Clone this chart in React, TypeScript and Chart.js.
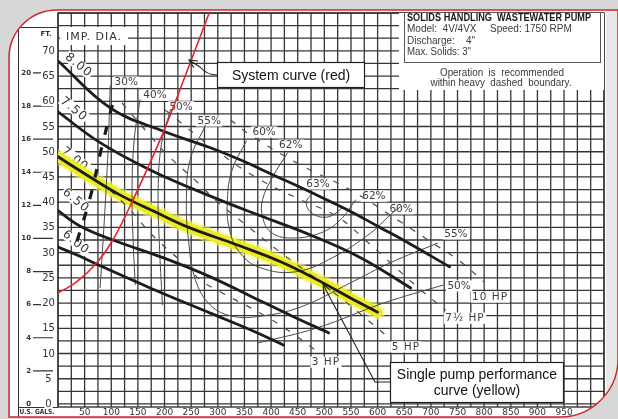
import React, { useEffect, useRef } from 'react';
import { Chart, registerables } from 'chart.js';

Chart.register(...registerables);

// ---------- axes ----------
const X_MIN = 0;
const X_MAX = 1025;
const Y_MIN = -0.6;
const Y_MAX = 77.5;
const X_GRID_STEP = 25;
const Y_GRID_STEP = 2.5;
const FT_PER_M = 3.2808;
const xTickLabels = [50, 100, 150, 200, 250, 300, 350, 400, 450, 500, 550, 600, 650, 700, 750, 800, 850, 900, 950];
const ftTickLabels = [0, 5, 10, 15, 20, 25, 30, 35, 40, 45, 50, 55, 60, 65, 70];
const meterTickLabels = [0, 2, 4, 6, 8, 10, 12, 14, 16, 18, 20];

// ---------- impeller head curves [gpm, ft] ----------
const imp800: number[][] = [[0, 68.0], [98, 58.7], [197, 54.1], [286, 50.8], [342, 48.4], [404, 45.4], [474, 42.0], [543, 38.5], [606, 34.9], [648, 32.5], [735, 27.2]];
const imp750: number[][] = [[0, 57.9], [79, 51.8], [173, 46.4], [286, 41.2], [380, 37.3], [474, 33.5], [568, 29.0], [662, 23.0]];
const imp700: number[][] = [[0, 49.0], [60, 45.0], [117, 41.4], [182, 38.1], [243, 35.1], [337, 31.5], [418, 28.2], [487, 24.6], [549, 21.0], [600, 18.2]];
const imp650: number[][] = [[0, 38.3], [41, 35.3], [103, 32.5], [197, 29.0], [286, 25.2], [361, 21.4], [436, 17.6], [508, 14.1]];
const imp600: number[][] = [[0, 31.1], [41, 29.3], [79, 27.4], [173, 23.0], [286, 18.0], [361, 14.7], [423, 11.7]];

// ---------- system curve ----------
const systemCurve: number[][] = [[0, 22.0], [35, 24.2], [73, 28.0], [103, 32.5], [141, 40.5], [197, 53.7], [243, 66.2], [286, 78.1]];

// ---------- efficiency contours ----------
const eff30: number[][] = [[98, 63.1], [94, 50.4], [87, 36.5], [79, 23.0]];
const eff40: number[][] = [[154, 60.3], [143, 52.3], [139, 42.4], [141, 32.5], [145, 23.6]];
const eff50L: number[][] = [[211, 58.3], [194, 51.4], [188, 42.4], [190, 32.5], [196, 19.6]];
const eff50R: number[][] = [[376, 12.1], [487, 15.1], [611, 20.0], [724, 23.6]];
const eff55: number[][] = [[277, 55.3], [248, 48.4], [241, 40.5], [245, 32.5], [258, 24.6], [286, 19.6], [327, 17.4], [380, 17.4], [455, 19.2], [549, 24.0], [624, 28.0], [713, 31.9]];
const eff60: number[][] = [[354, 52.2], [327, 46.4], [318, 40.5], [322, 34.5], [342, 29.9], [380, 27.0], [446, 26.2], [517, 29.1], [587, 33.9], [624, 37.5], [643, 39.1]];
const eff62: number[][] = [[431, 49.8], [403, 45.0], [384, 40.5], [384, 37.1], [399, 34.1], [436, 32.9], [493, 33.9], [530, 36.5], [559, 40.5]];
const eff63: number[][] = [[478, 41.8], [466, 39.9], [478, 37.7], [508, 37.1], [534, 38.9]];

// ---------- horsepower lines ----------
const hp10: number[][] = [[324, 56.3], [361, 53.3], [455, 47.4], [549, 42.4], [643, 36.1], [709, 31.5], [756, 28.2], [799, 24.2]];
const hp75: number[][] = [[201, 58.3], [295, 50.4], [380, 44.4], [455, 40.5], [525, 37.1], [581, 32.1], [628, 27.6], [681, 22.6], [728, 18.6]];
const hp5: number[][] = [[120, 59.7], [167, 53.9], [205, 49.4], [261, 44.0], [299, 40.1], [348, 35.9], [412, 30.5], [487, 24.6], [559, 18.6], [619, 13.3]];
const hp3: number[][] = [[98, 42.4], [135, 38.5], [173, 33.9], [207, 30.5], [239, 27.6], [267, 24.6], [305, 22.2], [380, 18.0], [436, 14.3], [483, 10.7]];

// ---------- heavy dashed operating boundary ----------
const heavyBoundary: number[][] = [[102, 59.3], [81, 50.4], [60, 40.8], [28, 29.7]];

// ---------- labels [text, gpm, ft] ----------
const effLabels: [string, number, number][] = [
  ['30%', 128, 63.8], ['40%', 182, 61.2], ['50%', 231, 58.9], ['55%', 284, 56.1],
  ['60%', 387, 53.9], ['62%', 437, 51.3], ['63%', 488, 43.6], ['62%', 593, 41.2],
  ['60%', 644, 38.7], ['55%', 747, 33.7], ['50%', 753, 23.4],
];
const hpLabels: [string, number, number][] = [
  ['10 HP', 811, 21.2], ['7½ HP', 764, 17.0], ['5 HP', 653, 11.3], ['3 HP', 503, 8.3],
];
const impLabels: [string, number, number][] = [
  ['8.00', 39, 67.2], ['7.50', 30, 58.5], ['7.00', 32, 48.6], ['6.50', 34, 40.4], ['6.00', 34, 32.1],
];
const systemArrowTip = [246, 68.2];
const pumpArrowTip = [498, 23.6];

const infoLines = {
  title: 'SOLIDS HANDLING  WASTEWATER PUMP',
  model: 'Model:  4V/4VX',
  speed: 'Speed: 1750 RPM',
  discharge: 'Discharge:    4"',
  solids: 'Max. Solids: 3"',
  note1: 'Operation  is  recommended',
  note2: 'within heavy  dashed  boundary.',
};

const pts = (arr: number[][]) => arr.map(([x, y]) => ({ x, y }));

function curve(data: number[][], color: string, width: number, order: number, extra: any = {}) {
  return {
    data: pts(data),
    showLine: true,
    borderColor: color,
    backgroundColor: color,
    borderWidth: width,
    pointRadius: 0,
    pointHoverRadius: 0,
    tension: 0.4,
    fill: false,
    order,
    borderJoinStyle: 'round',
    ...extra,
  };
}

const THIN = '#4a4a4a';
const datasets: any[] = [
  curve(systemCurve, '#e2262b', 1.6, 1),
  curve(imp800, '#1c1c1c', 2.8, 3, { borderCapStyle: 'round' }),
  curve(imp750, '#1c1c1c', 2.8, 3, { borderCapStyle: 'round' }),
  curve(imp700, '#1c1c1c', 2.8, 3, { borderCapStyle: 'round' }),
  curve(imp650, '#1c1c1c', 2.8, 3, { borderCapStyle: 'round' }),
  curve(imp600, '#1c1c1c', 2.8, 3, { borderCapStyle: 'round' }),
  curve(heavyBoundary, '#1a1a1a', 3.2, 6, { borderDash: [9, 13] }),
  curve(hp10, THIN, 1.2, 8, { borderDash: [6, 9] }),
  curve(hp75, THIN, 1.2, 8, { borderDash: [6, 9] }),
  curve(hp5, THIN, 1.2, 8, { borderDash: [6, 9] }),
  curve(hp3, THIN, 1.2, 8, { borderDash: [6, 9] }),
  curve(eff30, THIN, 1, 9),
  curve(eff40, THIN, 1, 9),
  curve(eff50L, THIN, 1, 9),
  curve(eff50R, THIN, 1, 9),
  curve(eff55, THIN, 1, 9),
  curve(eff60, THIN, 1, 9),
  curve(eff62, THIN, 1, 9),
  curve(eff63, THIN, 1, 9),
  curve(imp700, 'rgb(236,236,36)', 10, 19, { borderCapStyle: 'round' }),
  curve(imp700, 'rgba(244,244,120,0.55)', 15, 20, { borderCapStyle: 'round' }),
];

function textBg(ctx: CanvasRenderingContext2D, text: string, x: number, y: number, size: number, color: string, angle = 0, pad = 1.5, spacing = '0px') {
  ctx.save();
  ctx.translate(x, y);
  if (angle) ctx.rotate(angle);
  ctx.font = `${size}px "DejaVu Sans"`;
  (ctx as any).letterSpacing = spacing;
  const w = ctx.measureText(text).width;
  const h = size * 0.78;
  ctx.fillStyle = '#ffffff';
  ctx.fillRect(-w / 2 - pad, -h / 2 - pad, w + pad * 2, h + pad * 2);
  ctx.fillStyle = color;
  ctx.textAlign = 'center';
  ctx.textBaseline = 'middle';
  ctx.fillText(text, 0, 0.5);
  ctx.restore();
}

function arrowHead(ctx: CanvasRenderingContext2D, fx: number, fy: number, tx: number, ty: number, len = 9, spread = 0.45) {
  const a = Math.atan2(ty - fy, tx - fx);
  ctx.beginPath();
  ctx.moveTo(tx - len * Math.cos(a - spread), ty - len * Math.sin(a - spread));
  ctx.lineTo(tx, ty);
  ctx.lineTo(tx - len * Math.cos(a + spread), ty - len * Math.sin(a + spread));
  ctx.stroke();
}

const pumpPlugin = {
  id: 'pumpChart',
  beforeDraw(chart: any) {
    const { ctx, width, height } = chart;
    ctx.save();
    ctx.fillStyle = '#ffffff';
    ctx.fillRect(0, 0, width, height);
    ctx.restore();
  },
  beforeDatasetsDraw(chart: any) {
    const { ctx, chartArea, scales } = chart;
    const { left, right, top, bottom } = chartArea;
    const xs = scales.x;
    const ys = scales.y;
    ctx.save();
    // grid
    ctx.strokeStyle = '#363636';
    ctx.lineWidth = 1.3;
    ctx.beginPath();
    for (let v = X_MIN; v <= X_MAX + 1e-6; v += X_GRID_STEP) {
      const px = xs.getPixelForValue(v);
      ctx.moveTo(px, top);
      ctx.lineTo(px, bottom);
    }
    for (let v = 0; v <= Y_MAX + 1e-6; v += Y_GRID_STEP) {
      const py = ys.getPixelForValue(v);
      ctx.moveTo(left, py);
      ctx.lineTo(right, py);
    }
    ctx.stroke();
    ctx.lineWidth = 1.4;
    ctx.strokeRect(left, top, right - left, bottom - top);

    // white information area (top right)
    ctx.fillStyle = '#ffffff';
    ctx.fillRect(right - 205, top, 205, 77);
    // IMP. DIA. header area
    ctx.fillRect(left + 2, 27, 68, 18);
    ctx.restore();

    textBg(ctx, 'IMP. DIA.', left + 36, 37, 11, '#333', 0, 1, '1px');

    effLabels.forEach(([t, gx, gy]) => textBg(ctx, t, xs.getPixelForValue(gx), ys.getPixelForValue(gy), 10.5, '#3c3c3c'));
    hpLabels.forEach(([t, gx, gy]) => textBg(ctx, t, xs.getPixelForValue(gx), ys.getPixelForValue(gy), 10.5, '#3c3c3c', 0, 1.5, '1px'));
    impLabels.forEach(([t, gx, gy]) => textBg(ctx, t, xs.getPixelForValue(gx), ys.getPixelForValue(gy), 12, '#333', 0.68, 1, '1px'));
  },
  afterDatasetsDraw(chart: any) {
    const { ctx, chartArea, scales, width, height } = chart;
    const { left, right, top, bottom } = chartArea;
    const xs = scales.x;
    const ys = scales.y;
    ctx.save();

    // ---- info box ----
    const bx = right - 200;
    ctx.strokeStyle = '#555';
    ctx.lineWidth = 1;
    ctx.strokeRect(bx + 0.5, top - 0.5, 196, 50);
    ctx.textAlign = 'left';
    ctx.textBaseline = 'alphabetic';
    ctx.fillStyle = '#1a1a1a';
    ctx.font = 'bold 10px "Liberation Sans"';
    ctx.fillText(infoLines.title, bx + 3, top + 8, 184);
    ctx.fillStyle = '#3a3a3a';
    ctx.font = '10px "Liberation Sans"';
    ctx.fillText(infoLines.model, bx + 3, top + 19, 70);
    ctx.fillText(infoLines.speed, bx + 86, top + 19, 84);
    ctx.fillText(infoLines.discharge, bx + 3, top + 31, 72);
    ctx.fillText(infoLines.solids, bx + 3, top + 42, 64);
    ctx.textAlign = 'center';
    ctx.fillText(infoLines.note1, bx + 98, top + 63, 124);
    ctx.fillText(infoLines.note2, bx + 97, top + 73, 141);

    // ---- system curve callout ----
    ctx.fillStyle = '#ffffff';
    ctx.fillRect(217, 62, 148, 26);
    ctx.strokeStyle = '#222';
    ctx.lineWidth = 1.2;
    ctx.strokeRect(217.5, 62.5, 147, 25);
    ctx.fillStyle = '#111';
    ctx.font = '14px "Liberation Sans"';
    ctx.textBaseline = 'middle';
    ctx.fillText('System curve (red)', 291, 76);
    const st = [xs.getPixelForValue(systemArrowTip[0]), ys.getPixelForValue(systemArrowTip[1])];
    ctx.lineWidth = 1.1;
    ctx.beginPath();
    ctx.moveTo(217, 75);
    ctx.quadraticCurveTo(207, 75, 200, 67);
    ctx.lineTo(st[0], st[1]);
    ctx.stroke();
    arrowHead(ctx, 200, 67, st[0], st[1]);

    // ---- pump curve callout ----
    ctx.fillStyle = '#ffffff';
    ctx.fillRect(390, 362, 174, 41);
    ctx.strokeStyle = '#222';
    ctx.lineWidth = 1.2;
    ctx.strokeRect(390.5, 362.5, 173, 40);
    ctx.fillStyle = '#111';
    ctx.fillText('Single pump performance', 477, 375);
    ctx.fillText('curve (yellow)', 477, 391);
    const pt = [xs.getPixelForValue(pumpArrowTip[0]), ys.getPixelForValue(pumpArrowTip[1])];
    ctx.lineWidth = 1.1;
    ctx.beginPath();
    ctx.moveTo(390, 382);
    ctx.lineTo(375, 382);
    ctx.lineTo(pt[0], pt[1]);
    ctx.stroke();
    arrowHead(ctx, 375, 382, pt[0], pt[1]);

    // ---- axes / labels outside plot ----
    ctx.strokeStyle = '#333';
    ctx.lineWidth = 1;
    ctx.beginPath();
    ctx.moveTo(18.5, 27);
    ctx.lineTo(18.5, height);
    ctx.moveTo(18, 27.5);
    ctx.lineTo(left, 27.5);
    ctx.moveTo(18, bottom + 0.5);
    ctx.lineTo(left, bottom + 0.5);
    ctx.stroke();

    // meter ticks
    ctx.lineWidth = 1.2;
    ctx.beginPath();
    meterTickLabels.forEach((m) => {
      if (m === 0) return;
      const py = ys.getPixelForValue(m * FT_PER_M);
      ctx.moveTo(33, py);
      ctx.lineTo(53, py);
    });
    ctx.stroke();

    ctx.fillStyle = '#333';
    ctx.textAlign = 'right';
    ctx.textBaseline = 'middle';
    ctx.font = 'bold 7px "DejaVu Sans"';
    meterTickLabels.forEach((m) => {
      ctx.fillText(String(m), 31, ys.getPixelForValue(m * FT_PER_M));
    });

    ftTickLabels.forEach((v) => textBg(ctx, String(v), 48.5, ys.getPixelForValue(v), 10, '#333', 0, 1));

    ctx.fillStyle = '#333';
    ctx.textAlign = 'center';
    ctx.textBaseline = 'middle';
    ctx.font = '9px "DejaVu Sans"';
    xTickLabels.forEach((v) => ctx.fillText(String(v), xs.getPixelForValue(v), bottom + 5.5));

    ctx.font = 'bold 7px "DejaVu Sans"';
    ctx.fillText('FT.', 46, 34);
    ctx.fillText('U.S. GALS.', 37, bottom + 5.5, 35);

    // ---- outer frame ----
    ctx.fillStyle = '#e8e8e8';
    ctx.fillRect(right + 2, 0, width - right - 2, height);
    const L = 9, T = 10, R = 618, B = 417, r1 = 48, r2 = 58;
    const framePath = () => {
      ctx.moveTo(L, T + r1);
      ctx.arcTo(L, T, L + r1, T, r1);
      ctx.lineTo(R, T);
      ctx.lineTo(R, B - r2);
      ctx.arcTo(R, B, R - r2, B, r2);
      ctx.lineTo(L, B);
      ctx.closePath();
    };
    ctx.beginPath();
    ctx.rect(0, 0, width, height);
    framePath();
    ctx.fillStyle = '#d7d7d7';
    ctx.fill('evenodd');
    ctx.beginPath();
    framePath();
    ctx.strokeStyle = '#d0262a';
    ctx.lineWidth = 1.5;
    ctx.stroke();
    ctx.restore();
  },
};

export default function App() {
  const ref = useRef<HTMLCanvasElement>(null);
  useEffect(() => {
    document.body.style.margin = '0';
    const canvas = ref.current;
    if (!canvas) return;
    const chart = new Chart(canvas, {
      type: 'scatter',
      data: { datasets },
      options: {
        responsive: false,
        animation: false,
        devicePixelRatio: 1,
        events: [],
        layout: { padding: { left: 58, right: 14, top: 13, bottom: 12 } },
        scales: {
          x: { type: 'linear', display: false, min: X_MIN, max: X_MAX },
          y: { type: 'linear', display: false, min: Y_MIN, max: Y_MAX },
        },
        plugins: { legend: { display: false }, tooltip: { enabled: false } },
      } as any,
      plugins: [pumpPlugin as any],
    });
    return () => chart.destroy();
  }, []);
  return (
    <div style={{ position: 'fixed', left: 0, top: 0, width: 618, height: 419 }}>
      <canvas ref={ref} width={618} height={419} style={{ display: 'block', width: 618, height: 419 }} />
    </div>
  );
}
